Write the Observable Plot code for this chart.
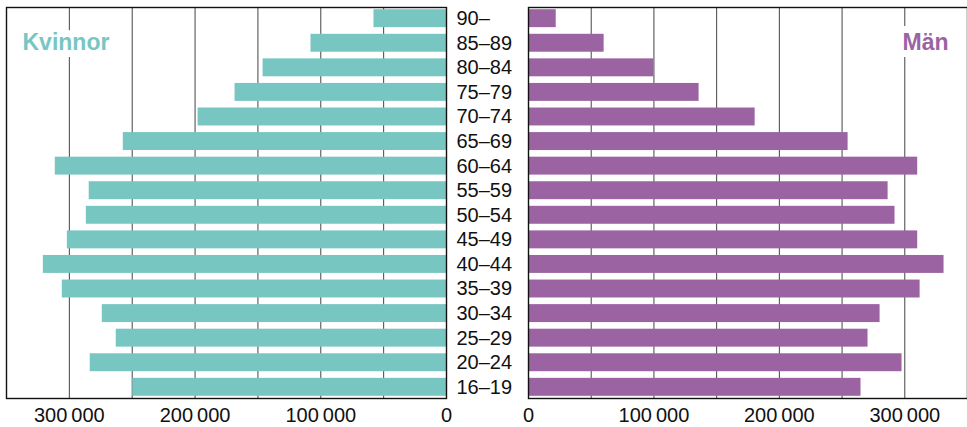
<!DOCTYPE html>
<html>
<head>
<meta charset="utf-8">
<script src="https://cdn.jsdelivr.net/npm/d3@7"></script>
<script src="https://cdn.jsdelivr.net/npm/@observablehq/plot@0.6"></script>
<style>
  html, body { margin: 0; padding: 0; background: white; overflow: hidden; }
  #row { display: flex; flex-direction: row; width: 967px; }
  #row svg { display: block; }
</style>
</head>
<body>
<div id="row"></div>
<script>
const ages = ["90–","85–89","80–84","75–79","70–74","65–69","60–64","55–59","50–54","45–49","40–44","35–39","30–34","25–29","20–24","16–19"];
const women = [57700, 107800, 145900, 168200, 197600, 257100, 311200, 284200, 286500, 301600, 320700, 305600, 273800, 262700, 283400, 249500];
const men = [22100, 60300, 99900, 136000, 180700, 254800, 310300, 286700, 292200, 310300, 331300, 312200, 280300, 270700, 297800, 265100];
const tickValues = [0, 100000, 200000, 300000];
const gridValues = [50000, 100000, 150000, 200000, 250000, 300000];
const seriesLabels = ["Kvinnor", "Män"];

const teal = "#78c6c2";
const purple = "#9c63a3";
const font = "'Liberation Sans', Arial, Helvetica, sans-serif";
const fmt = d => d3.format(",")(d).replace(/,/g, "\u2009");

const data = ages.map((a, i) => ({age: a, women: women[i], men: men[i]}));

const common = {
  height: 427,
  marginTop: 7,
  marginBottom: 29,
  style: {fontFamily: font, fontSize: "20px", color: "#111", background: "white", overflow: "visible"},
  y: {domain: ages, paddingInner: 0.27, paddingOuter: 0.09, round: false, label: null}
};

const left = Plot.plot({
  ...common,
  width: 527,
  marginLeft: 6,
  marginRight: 81,
  x: {domain: [0, 350000], reverse: true, label: null},
  marks: [
    Plot.ruleX(gridValues, {stroke: "#444", strokeWidth: 1}),
    Plot.text([seriesLabels[0]], {frameAnchor: "top-left", dx: 16, dy: 26, textAnchor: "start", fill: teal, stroke: "white", strokeWidth: 14, fontWeight: "bold", fontSize: 23}),
    Plot.barX(data, {x: "women", y: "age", fill: teal}),
    Plot.frame({stroke: "#111", strokeWidth: 1.4}),
    Plot.axisX({ticks: tickValues, tickSize: 0, tickPadding: 9, tickFormat: fmt, label: null}),
    Plot.axisY({anchor: "right", tickSize: 0, tickPadding: 10, label: null})
  ]
});

const right = Plot.plot({
  ...common,
  width: 440,
  marginLeft: 1,
  marginRight: 0,
  x: {domain: [0, 350000], label: null},
  marks: [
    Plot.ruleX(gridValues, {stroke: "#444", strokeWidth: 1}),
    Plot.text([seriesLabels[1]], {frameAnchor: "top-right", dx: -19, dy: 26, textAnchor: "end", fill: purple, stroke: "white", strokeWidth: 14, fontWeight: "bold", fontSize: 23}),
    Plot.barX(data, {x: "men", y: "age", fill: purple}),
    Plot.frame({stroke: "#111", strokeWidth: 1.4}),
    Plot.axisX({ticks: tickValues, tickSize: 0, tickPadding: 9, tickFormat: fmt, label: null}),
    Plot.axisY({ticks: [], label: null})
  ]
});

document.getElementById("row").append(left, right);
</script>
</body>
</html>
